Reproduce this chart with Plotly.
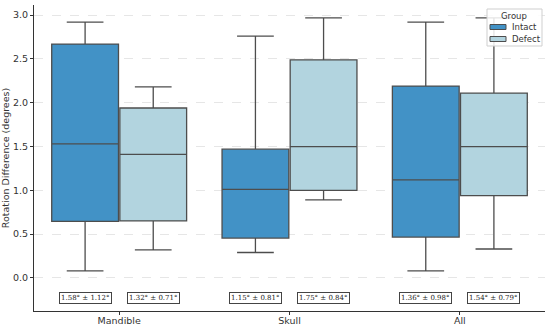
import plotly.graph_objects as go

categories = ["Mandible", "Skull", "All"]
groups = ["Intact", "Defect"]

intact_low = [0.08, 0.29, 0.08]
intact_q1 = [0.645, 0.455, 0.466]
intact_med = [1.53, 1.01, 1.12]
intact_q3 = [2.67, 1.47, 2.19]
intact_high = [2.92, 2.76, 2.92]

defect_low = [0.32, 0.89, 0.33]
defect_q1 = [0.65, 1.00, 0.94]
defect_med = [1.41, 1.50, 1.50]
defect_q3 = [1.94, 2.49, 2.11]
defect_high = [2.18, 2.97, 2.97]

intact_labels = ["1.58° ± 1.12°", "1.15° ± 0.81°", "1.36° ± 0.98°"]
defect_labels = ["1.32° ± 0.71°", "1.75° ± 0.84°", "1.54° ± 0.79°"]

colors = {"Intact": "#4292c6", "Defect": "#b2d4df"}
edge = "#4d4d4d"

W, H = 550, 326
ML, MR, MT, MB = 34, 5, 5, 15
PW, PH = W - ML - MR, H - MT - MB


def px(xp):
    return (xp - ML) / PW


def py(yp):
    return (H - MB - yp) / PH


fig = go.Figure()
for name, lo, q1, med, q3, hi in [
    ("Intact", intact_low, intact_q1, intact_med, intact_q3, intact_high),
    ("Defect", defect_low, defect_q1, defect_med, defect_q3, defect_high),
]:
    fig.add_trace(go.Box(
        name=name, x=categories, q1=q1, median=med, q3=q3,
        lowerfence=lo, upperfence=hi,
        fillcolor=colors[name], line=dict(color=edge, width=1.3),
        whiskerwidth=0.55, boxpoints=False, showlegend=False,
    ))

label_y = -0.225
for i, (a, b) in enumerate(zip(intact_labels, defect_labels)):
    for off, txt in [(-0.2, a), (0.2, b)]:
        fig.add_annotation(
            x=i + off, y=label_y, text=txt, showarrow=False,
            font=dict(family="DejaVu Serif", size=7, color="#222"),
            bordercolor="#444", borderwidth=1, borderpad=1,
            bgcolor="white",
        )

# custom legend
fig.add_shape(type="rect", xref="paper", yref="paper",
              x0=px(487), x1=px(542), y0=py(46), y1=py(9),
              line=dict(color="#cfcfcf", width=1), fillcolor="rgba(255,255,255,0.85)")
fig.add_annotation(xref="paper", yref="paper", x=px(514), y=py(16), text="Group",
                   xanchor="center", yanchor="middle",
                   showarrow=False, font=dict(size=8.5, color="#333"))
for name, yc in [("Intact", 27), ("Defect", 39)]:
    fig.add_shape(type="rect", xref="paper", yref="paper",
                  x0=px(490), x1=px(506), y0=py(yc + 2.5), y1=py(yc - 2.5),
                  line=dict(color=edge, width=1), fillcolor=colors[name])
    fig.add_annotation(xref="paper", yref="paper", x=px(510), y=py(yc), text=name,
                       xanchor="left", yanchor="middle",
                       showarrow=False, font=dict(size=8.5, color="#333"))

fig.update_layout(
    width=W, height=H,
    margin=dict(l=ML, r=MR, t=MT, b=MB),
    boxmode="group", boxgap=0.2, boxgroupgap=0.02,
    plot_bgcolor="white", paper_bgcolor="white",
    font=dict(family="DejaVu Sans", size=9, color="#333"),
    showlegend=False,
    xaxis=dict(
        range=[-0.5, 2.5], showline=True, linecolor="#333", linewidth=1,
        ticks="outside", ticklen=3, tickcolor="#333",
        showgrid=False, tickfont=dict(size=9.5), automargin=False,
        ticklabelstandoff=-2,
    ),
    yaxis=dict(
        range=[-0.378, 3.116], showline=True, linecolor="#333", linewidth=1,
        ticks="outside", ticklen=3, tickcolor="#333",
        tickvals=[0, 0.5, 1.0, 1.5, 2.0, 2.5, 3.0], tickformat=".1f",
        showgrid=True, gridcolor="#e6e6e6", griddash="dash", gridwidth=0.8,
        zeroline=False, tickfont=dict(size=9.5), automargin=False,
        title=dict(text="Rotation Difference (degrees)", font=dict(size=9.5), standoff=1),
    ),
)

fig.write_html("out.html", config={"displayModeBar": False},
               post_script="document.body.style.margin='0';document.body.style.overflow='hidden';")
